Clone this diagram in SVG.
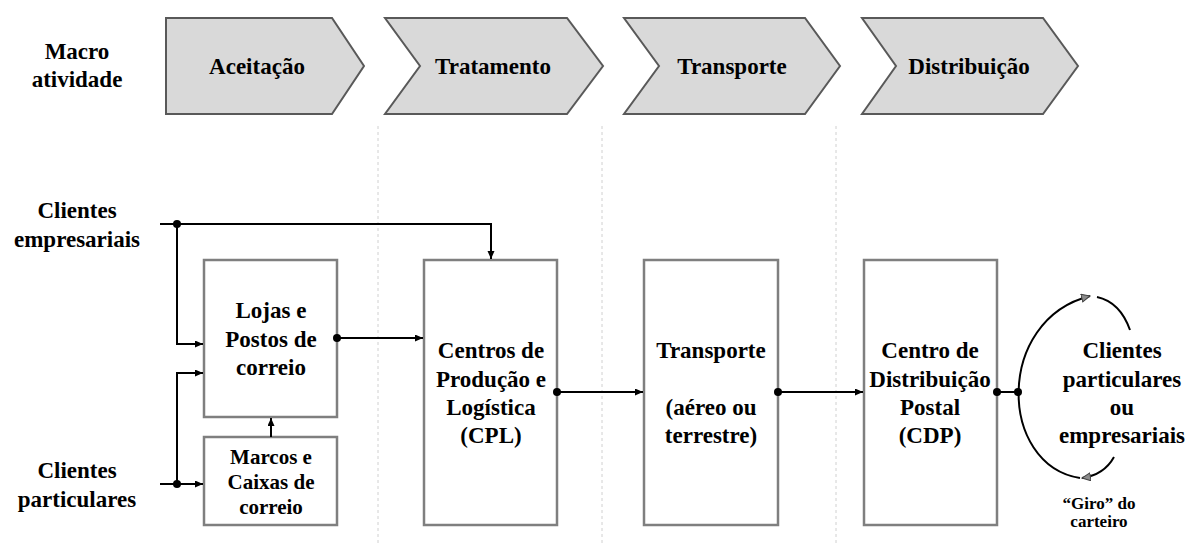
<svg xmlns="http://www.w3.org/2000/svg" width="1187" height="543" viewBox="0 0 1187 543">
<defs>
<style>
.big{font-size:23px}
.med{font-size:21px}
.sm{font-size:17px}
.chev{fill:#d9d9d9;stroke:#595959;stroke-width:2;stroke-linejoin:miter}
.box{fill:#fff;stroke:#7f7f7f;stroke-width:2.5}
.sep{stroke:#d0d0d0;stroke-width:1;stroke-dasharray:3,3;fill:none}
.con{stroke:#000;stroke-width:2;fill:none}
.loop{stroke:#000;stroke-width:2;fill:none}
</style>
<marker id="arr" markerUnits="userSpaceOnUse" markerWidth="9" markerHeight="8" refX="8" refY="3.5" orient="auto">
<path d="M0,0 L8,3.5 L0,7 z" fill="#000"/>
</marker>
<marker id="garr" markerUnits="userSpaceOnUse" markerWidth="12" markerHeight="10" refX="9" refY="4.5" orient="auto">
<path d="M0.5,0.5 L9,4.5 L0.5,8.5 z" fill="#8c8c8c" stroke="#404040" stroke-width="1"/>
</marker>
</defs>

<g id="separators">
<line class="sep" x1="378" y1="126" x2="378" y2="543"/>
<line class="sep" x1="602" y1="126" x2="602" y2="543"/>
<line class="sep" x1="836" y1="126" x2="836" y2="543"/>
</g>

<g font-family="Liberation Serif, Times New Roman, DejaVu Serif, serif" font-weight="bold" text-anchor="middle" fill="#000">
<g id="macro-label">
<text class="big" x="77" y="59">Macro</text>
<text class="big" x="77" y="87">atividade</text>
</g>

<g id="chev-aceitacao">
<path class="chev" d="M166,18 L332,18 L364,66 L332,114 L166,114 Z"/>
<text class="big" x="257" y="74">Aceitação</text>
</g>
<g id="chev-tratamento">
<path class="chev" d="M385,18 L567,18 L603,66 L567,114 L385,114 L420,66 Z"/>
<text class="big" x="493" y="74">Tratamento</text>
</g>
<g id="chev-transporte">
<path class="chev" d="M624,18 L805,18 L840,66 L805,114 L624,114 L659,66 Z"/>
<text class="big" x="732" y="74">Transporte</text>
</g>
<g id="chev-distribuicao">
<path class="chev" d="M862,18 L1043,18 L1078,66 L1043,114 L862,114 L896,66 Z"/>
<text class="big" x="969" y="74">Distribuição</text>
</g>

<g id="clientes-empresariais">
<text class="big" x="77" y="218">Clientes</text>
<text class="big" x="77" y="247">empresariais</text>
</g>
<g id="clientes-particulares">
<text class="big" x="77" y="478">Clientes</text>
<text class="big" x="77" y="507">particulares</text>
</g>

<g id="lojas">
<rect class="box" x="204" y="260" width="133" height="157"/>
<text class="big" x="271" y="318">Lojas e</text>
<text class="big" x="271" y="347">Postos de</text>
<text class="big" x="271" y="375">correio</text>
</g>
<g id="marcos">
<rect class="box" x="204" y="437" width="133" height="88"/>
<text class="med" x="271" y="464">Marcos e</text>
<text class="med" x="271" y="489">Caixas de</text>
<text class="med" x="271" y="514">correio</text>
</g>
<g id="cpl">
<rect class="box" x="424" y="260" width="133" height="265"/>
<text class="big" x="491" y="358">Centros de</text>
<text class="big" x="491" y="387">Produção e</text>
<text class="big" x="491" y="415">Logística</text>
<text class="big" x="491" y="443">(CPL)</text>
</g>
<g id="transporte">
<rect class="box" x="644" y="260" width="134" height="265"/>
<text class="big" x="711" y="358">Transporte</text>
<text class="big" x="711" y="415">(aéreo ou</text>
<text class="big" x="711" y="443">terrestre)</text>
</g>
<g id="cdp">
<rect class="box" x="864" y="260" width="133" height="265"/>
<text class="big" x="930" y="358">Centro de</text>
<text class="big" x="930" y="387">Distribuição</text>
<text class="big" x="930" y="415">Postal</text>
<text class="big" x="930" y="443">(CDP)</text>
</g>
<g id="clientes-finais">
<text class="big" x="1122" y="358">Clientes</text>
<text class="big" x="1122" y="387">particulares</text>
<text class="big" x="1122" y="415">ou</text>
<text class="big" x="1122" y="443">empresariais</text>
</g>
<g id="giro-label">
<text class="sm" x="1099" y="509">“Giro” do</text>
<text class="sm" x="1099" y="527">carteiro</text>
</g>
</g>

<g id="connectors">
<path class="con" d="M160,224 H491 V259" marker-end="url(#arr)"/>
<path class="con" d="M177,224 V344 H203" marker-end="url(#arr)"/>
<path class="con" d="M337,338 H423" marker-end="url(#arr)"/>
<path class="con" d="M160,484 H203" marker-end="url(#arr)"/>
<path class="con" d="M177,484 V373 H203" marker-end="url(#arr)"/>
<path class="con" d="M271,437 V418" marker-end="url(#arr)"/>
<path class="con" d="M557,392 H643" marker-end="url(#arr)"/>
<path class="con" d="M778,392 H863" marker-end="url(#arr)"/>
<path class="con" d="M997,392 H1018"/>
<path class="loop" d="M1080,478 C998,465 995,320 1090,296" marker-end="url(#garr)"/>
<path class="loop" d="M1097,297 Q1120,302 1130,330"/>
<path class="loop" d="M1114,457 Q1104,475 1082,478" marker-end="url(#garr)"/>
<circle cx="177" cy="224" r="4" fill="#000"/>
<circle cx="177" cy="484" r="4" fill="#000"/>
<circle cx="337" cy="338" r="4" fill="#000"/>
<circle cx="557" cy="392" r="4" fill="#000"/>
<circle cx="778" cy="392" r="4" fill="#000"/>
<circle cx="997" cy="392" r="4" fill="#000"/>
<circle cx="1018" cy="392" r="4" fill="#000"/>
</g>
</svg>
